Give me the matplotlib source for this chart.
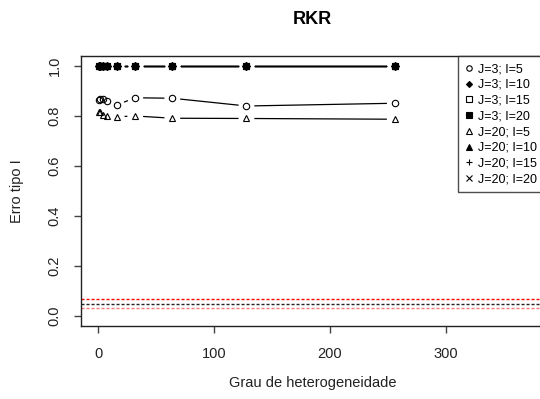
import numpy as np
import matplotlib
matplotlib.use('Agg')
import matplotlib.pyplot as plt
from matplotlib.lines import Line2D

plt.rcParams['font.family'] = ['Liberation Sans', 'DejaVu Sans']

# DATA
grau = [1, 2, 4, 8, 16, 32, 64, 128, 256]
j3_i5 = [0.865, 0.870, 0.868, 0.862, 0.845, 0.874, 0.872, 0.841, 0.852]
j3_i10 = [1.0, 1.0, 1.0, 1.0, 1.0, 1.0, 1.0, 1.0, 1.0]
j3_i15 = [1.0, 1.0, 1.0, 1.0, 1.0, 1.0, 1.0, 1.0, 1.0]
j3_i20 = [1.0, 1.0, 1.0, 1.0, 1.0, 1.0, 1.0, 1.0, 1.0]
j20_i5 = [0.815, 0.816, 0.806, 0.800, 0.798, 0.801, 0.792, 0.791, 0.788]
j20_i10 = [1.0, 1.0, 1.0, 1.0, 1.0, 1.0, 1.0, 1.0, 1.0]
j20_i15 = [1.0, 1.0, 1.0, 1.0, 1.0, 1.0, 1.0, 1.0, 1.0]
j20_i20 = [1.0, 1.0, 1.0, 1.0, 1.0, 1.0, 1.0, 1.0, 1.0]
labels = ['J=3; I=5', 'J=3; I=10', 'J=3; I=15', 'J=3; I=20',
          'J=20; I=5', 'J=20; I=10', 'J=20; I=15', 'J=20; I=20']
ref_lines = [0.0665, 0.048, 0.031]

series = [j3_i5, j3_i10, j3_i15, j3_i20, j20_i5, j20_i10, j20_i15, j20_i20]
# (marker, filled, size) mimicking R pch 1, 18, 0, 15, 2, 17, 3, 4
styles = [('o', False, 4.6), ('D', True, 3.6), ('s', False, 4.3), ('s', True, 4.3),
          ('^', False, 4.8), ('^', True, 4.8), ('+', False, 5.5), ('x', False, 4.3)]
ref_styles = [('#ff0000', 1.0), ('#222222', 1.0), ('#ff7a7a', 1.0)]

W, H, DPI = 540, 399, 100
fig = plt.figure(figsize=(W / DPI, H / DPI), dpi=DPI)
ax_l, ax_r, ax_t, ax_b = 81, 544, 56.3, 326
ax = fig.add_axes([ax_l / W, 1 - ax_b / H, (ax_r - ax_l) / W, (ax_b - ax_t) / H])
ax.set_xlim(-14.8, 384.8)
ax.set_ylim(-0.04, 1.04)


# type="b" lines: segments with a gap around every point
def gapped_line(x, y, gap=8.5, **kw):
    pts = ax.transData.transform(np.column_stack([x, y]))
    inv = ax.transData.inverted()
    for p0, p1 in zip(pts[:-1], pts[1:]):
        d = p1 - p0
        n = np.hypot(*d)
        if n <= 2 * gap:
            continue
        u = d / n
        a = inv.transform(p0 + u * gap)
        b = inv.transform(p1 - u * gap)
        ax.plot([a[0], b[0]], [a[1], b[1]], color='black', lw=0.9, **kw)


for vals in series:
    gapped_line(grau, vals)

for vals, (m, filled, ms) in zip(series, styles):
    ax.plot(grau, vals, linestyle='none', marker=m, markersize=ms,
            markerfacecolor='black' if filled else 'none',
            markeredgecolor='black', markeredgewidth=0.8)

for v, (c, lw) in zip(ref_lines, ref_styles):
    ax.axhline(v, color=c, lw=lw, linestyle=(0, (2.2, 1.4)))

# axes style like R base graphics
for s in ax.spines.values():
    s.set_linewidth(1.0)
    s.set_color('#222222')
ax.set_xticks([0, 100, 200, 300])
ax.set_yticks([0.0, 0.2, 0.4, 0.6, 0.8, 1.0])
ax.set_yticklabels(['0.0', '0.2', '0.4', '0.6', '0.8', '1.0'])
ax.tick_params(axis='both', length=5, width=1.0, color='#444444', labelsize=10.5,
               labelcolor='#222222')
ax.tick_params(axis='x', pad=10)
ax.tick_params(axis='y', pad=9)
for t in ax.get_yticklabels():
    t.set_rotation(90)
    t.set_va('center')

ax.set_xlabel('Grau de heterogeneidade', fontsize=10.5, color='#222222')
ax.xaxis.set_label_coords(0.5, -57 / (ax_b - ax_t))
ax.xaxis.label.set_va('center')
ax.set_ylabel('Erro tipo I', fontsize=10.5, color='#222222')
ax.yaxis.set_label_coords(-64 / (ax_r - ax_l), 0.5)
ax.yaxis.label.set_va('center')

fig.text((ax_l + ax_r) / 2 / W, 1 - 20 / H, 'RKR', ha='center', va='center',
         fontsize=13, fontweight='bold')

handles = [Line2D([], [], linestyle='none', marker=m, markersize=ms * 0.85,
                  markerfacecolor='black' if filled else 'none',
                  markeredgecolor='black', markeredgewidth=0.8)
           for (m, filled, ms) in styles]
leg = ax.legend(handles, labels, loc='upper right', bbox_to_anchor=(1, 1),
                borderaxespad=0, frameon=True, fancybox=False, fontsize=9,
                handlelength=0.7, handletextpad=0.37, labelspacing=0.3,
                borderpad=0.55)
leg.get_frame().set_edgecolor('#222222')
leg.get_frame().set_linewidth(1.0)

fig.savefig('out.png', dpi=DPI)
